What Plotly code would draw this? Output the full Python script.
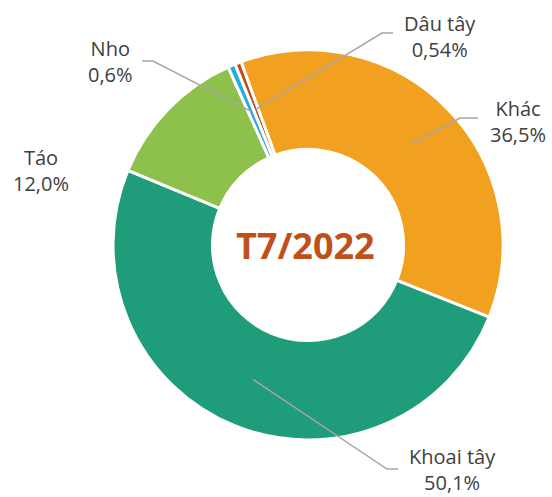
import math
import plotly.graph_objects as go

# ---- data ----
labels = ["Dâu tây", "Khác", "Khoai tây", "Táo", "Nho"]
values = [0.54, 36.5, 50.1, 12.0, 0.6]
value_text = ["0,54%", "36,5%", "50,1%", "12,0%", "0,6%"]
colors = ["#C0501A", "#F1A01F", "#1F9C7A", "#8DC14B", "#2AA7DB"]
center_title = "T7/2022"

# ---- layout constants (pixels) ----
W, H = 552, 497
CX, CY = 308, 245          # pie centre
R_OUT = 195
HOLE = 0.49
ROTATION = -22

def paper(x, y):
    return x / W, 1 - y / H

# label block centres and leader elbows (pixel positions)
label_pos = {
    "Dâu tây": (440, 36),
    "Khác": (518, 121),
    "Khoai tây": (452, 469),
    "Táo": (41, 171),
    "Nho": (110, 61),
}
elbows = {
    "Dâu tây": [(382, 33), (393, 33)],
    "Khác": [(460, 118), (478, 118)],
    "Khoai tây": [(387, 469), (398, 469)],
    "Nho": [(153, 61), (142, 61)],
}

fig = go.Figure()
fig.add_trace(go.Pie(
    labels=labels, values=values, sort=False, direction="clockwise",
    rotation=ROTATION, hole=HOLE, textinfo="none",
    marker=dict(colors=colors, line=dict(color="white", width=3)),
    domain=dict(x=[(CX - R_OUT) / W, (CX + R_OUT) / W],
                y=[1 - (CY + R_OUT) / H, 1 - (CY - R_OUT) / H]),
    showlegend=False,
))

# leader lines computed from slice mid-angles
total = sum(values)
r_mid = R_OUT * (1 + HOLE) / 2
angle = ROTATION
shapes = []
for lab, v in zip(labels, values):
    span = v / total * 360
    mid = math.radians(angle + span / 2)
    angle += span
    if lab not in elbows:
        continue
    sx = CX + r_mid * math.sin(mid)
    sy = CY - r_mid * math.cos(mid)
    pts = [(sx, sy)] + elbows[lab]
    path = "M " + " L ".join(f"{paper(x, y)[0]:.5f},{paper(x, y)[1]:.5f}" for x, y in pts)
    shapes.append(dict(type="path", xref="paper", yref="paper", path=path,
                       line=dict(color="#A6A6A6", width=1.5)))

annotations = []
for lab, vt in zip(labels, value_text):
    x, y = paper(*label_pos[lab])
    annotations.append(dict(x=x, y=y, xref="paper", yref="paper",
                            text=f"{lab}<br>{vt}", showarrow=False,
                            xanchor="center", yanchor="middle", align="center",
                            font=dict(family="Open Sans", size=20, color="#404040")))
cx, cy = paper(CX - 3, CY)
annotations.append(dict(x=cx, y=cy, xref="paper", yref="paper", text=f"<b>{center_title}</b>",
                        showarrow=False, xanchor="center", yanchor="middle",
                        font=dict(family="Open Sans", size=36, color="#C0501A")))

fig.update_layout(width=W, height=H, margin=dict(l=0, r=0, t=0, b=0),
                  paper_bgcolor="white", plot_bgcolor="white",
                  shapes=shapes, annotations=annotations)
fig.write_html("out.html", config={"displayModeBar": False},
               post_script="document.body.style.margin='0px';document.body.style.overflow='hidden';")
